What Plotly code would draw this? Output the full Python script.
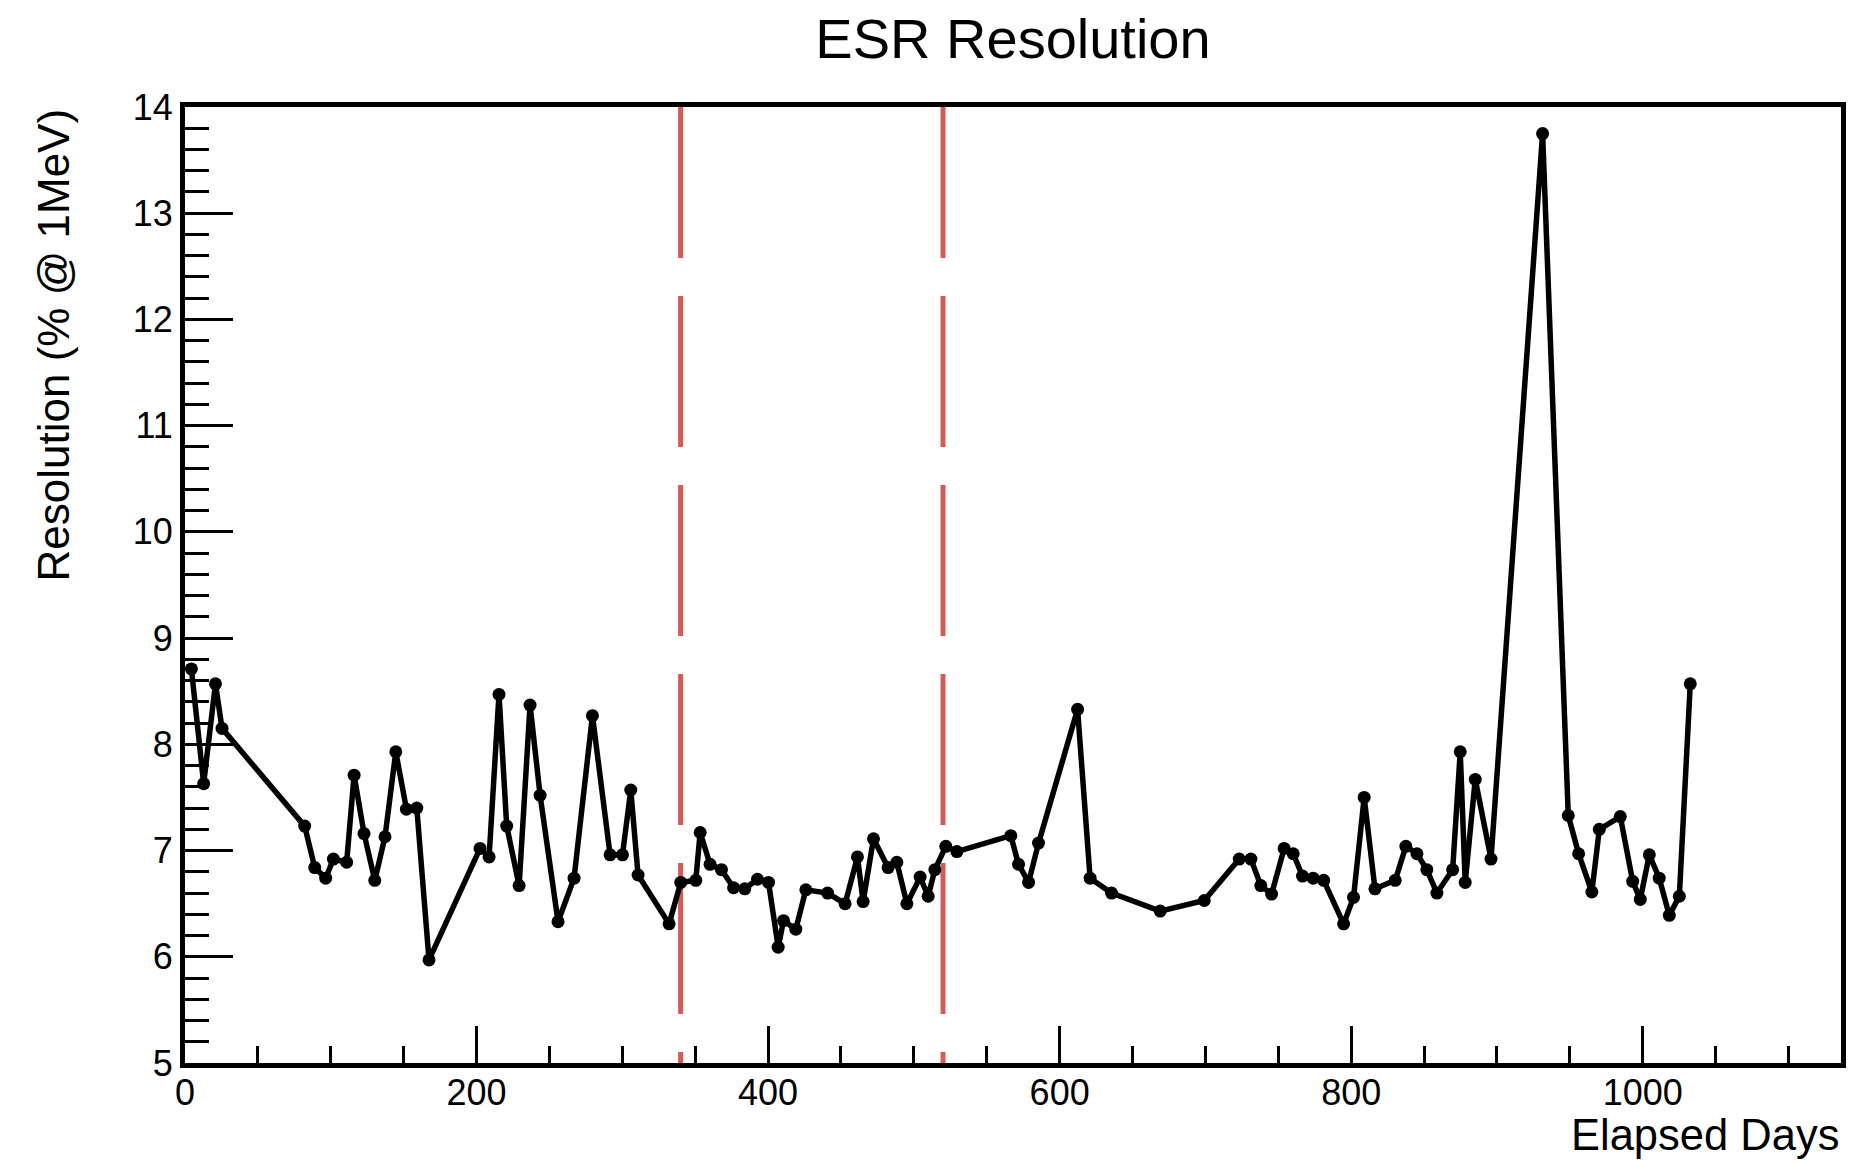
import plotly.graph_objects as go

days = [4.4, 12.8, 20.9, 25.4, 82.1, 89.0, 96.5, 101.8, 110.9, 116.0, 122.8, 130.2, 137.2, 144.6,
        151.9, 159.0, 167.4, 202.4, 208.6, 215.4, 220.7, 229.2, 236.7, 243.6, 255.9, 266.9, 279.5,
        291.6, 300.1, 305.8, 310.8, 332.1, 340.1, 350.4, 353.4, 360.2, 368.0, 376.3, 384.0, 392.7,
        400.3, 406.9, 410.6, 419.0, 425.9, 440.8, 452.8, 461.3, 465.2, 472.3, 482.3, 488.3, 495.2,
        504.3, 509.8, 514.4, 521.9, 529.5, 566.5, 571.8, 578.7, 585.5, 612.3, 620.9, 635.6, 669.0,
        699.2, 723.2, 731.2, 738.0, 745.4, 754.0, 760.2, 766.6, 773.9, 781.1, 794.8, 801.6, 808.9,
        816.3, 830.2, 837.5, 845.1, 851.9, 858.8, 869.6, 874.8, 878.2, 885.1, 895.9, 931.3, 948.9,
        956.0, 965.1, 970.2, 984.6, 993.1, 998.3, 1004.5, 1011.3, 1018.2, 1025.1, 1032.6]
resolution = [8.71, 7.63, 8.57, 8.15, 7.23, 6.84, 6.74, 6.92, 6.89, 7.71, 7.16, 6.72, 7.13, 7.93,
              7.39, 7.40, 5.97, 7.02, 6.94, 8.47, 7.23, 6.67, 8.37, 7.52, 6.33, 6.74, 8.27,
              6.96, 6.96, 7.57, 6.77, 6.31, 6.70, 6.72, 7.17, 6.87, 6.82, 6.65, 6.64, 6.73,
              6.70, 6.09, 6.34, 6.26, 6.63, 6.60, 6.50, 6.94, 6.52, 7.11, 6.84, 6.89, 6.50,
              6.75, 6.57, 6.82, 7.04, 6.99, 7.14, 6.87, 6.70, 7.07, 8.33, 6.74, 6.60, 6.43,
              6.53, 6.92, 6.92, 6.67, 6.59, 7.02, 6.97, 6.76, 6.74, 6.72, 6.31, 6.56, 7.50,
              6.64, 6.72, 7.04, 6.97, 6.82, 6.60, 6.82, 7.93, 6.70, 7.67, 6.92, 13.75, 7.33,
              6.97, 6.61, 7.20, 7.32, 6.71, 6.54, 6.96, 6.74, 6.39, 6.57, 8.57]
period_markers = [340, 520]
x_range = [0, 1136]
y_range = [5, 14]
x_tickvals = [0, 200, 400, 600, 800, 1000]

FONT = "Liberation Sans"
RED = "#d65a55"

fig = go.Figure()
fig.add_trace(go.Scatter(
    x=days, y=resolution, mode="lines+markers",
    line=dict(color="black", width=5.5),
    marker=dict(color="black", size=13),
    showlegend=False,
))

for xv in period_markers:
    fig.add_shape(type="line", xref="x", yref="y", x0=xv, x1=xv, y0=y_range[1], y1=y_range[0],
                  line=dict(color=RED, width=5, dash="151px,38px"), layer="below")

fig.update_layout(
    width=1874, height=1165,
    margin=dict(l=185, r=33, t=107, b=102),
    paper_bgcolor="white", plot_bgcolor="white",
    font=dict(family=FONT, color="black", size=36),
    title=dict(text="ESR Resolution", x=0.5, xref="paper", xanchor="center",
               y=1 - 38 / 1165, yref="container", yanchor="middle",
               font=dict(family=FONT, size=56, color="black")),
    xaxis=dict(range=x_range, tickvals=x_tickvals, ticks="inside", ticklen=37, tickwidth=3,
               tickcolor="black", showline=True, linecolor="black", linewidth=5, mirror=True,
               showgrid=False, zeroline=False, tickfont=dict(size=36), ticklabelstandoff=-6,
               minor=dict(ticks="inside", ticklen=17, tickwidth=3, dtick=50, tick0=0,
                          tickcolor="black", showgrid=False)),
    yaxis=dict(range=y_range, dtick=1, tick0=5, ticks="inside", ticklen=48, tickwidth=3,
               tickcolor="black", showline=True, linecolor="black", linewidth=5, mirror=True,
               showgrid=False, zeroline=False, tickfont=dict(size=36),
               minor=dict(ticks="inside", ticklen=24, tickwidth=3, dtick=0.2, tick0=5,
                          tickcolor="black", showgrid=False)),
    annotations=[
        dict(text="Resolution (% @ 1MeV)", textangle=-90, xref="paper", yref="paper",
             x=(53 - 185) / 1656, y=1, xanchor="center", yanchor="top", showarrow=False,
             font=dict(family=FONT, size=44, color="black")),
        dict(text="Elapsed Days", xref="paper", yref="paper", x=1, y=(1063 - 1135) / 956,
             xanchor="right", yanchor="middle", showarrow=False,
             font=dict(family=FONT, size=43.5, color="black")),
    ],
)

fig.write_html("out.html")
